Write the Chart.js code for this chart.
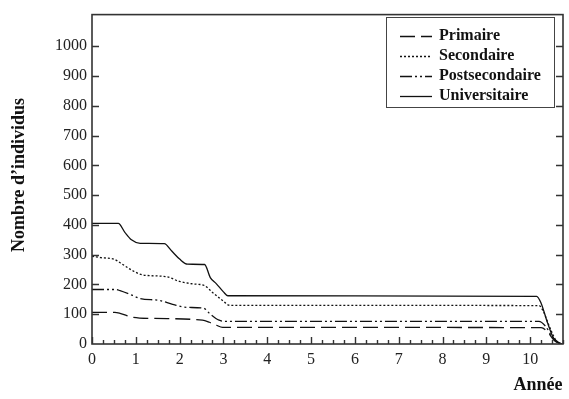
<!DOCTYPE html>
<html>
<head>
<meta charset="utf-8">
<script src="https://cdn.jsdelivr.net/npm/chart.js@4/dist/chart.umd.min.js"></script>
<style>
  html, body { margin: 0; padding: 0; background: #fff; }
  #c { display: block; }
</style>
</head>
<body>
<canvas id="c" width="569" height="399"></canvas>
<script>
// ---- Data ----
const seriesNames = ["Primaire", "Secondaire", "Postsecondaire", "Universitaire"];

const primaireX = [0, 0.52, 0.64, 0.93, 1.39, 2.52, 2.68, 2.84, 2.98, 10.25, 10.4, 10.55, 10.72];
const primaireY = [106, 106, 103, 90, 86, 80, 73, 63, 56, 55, 40, 12, 0];

const secondaireX = [0, 0.2, 0.5, 0.65, 0.93, 1.16, 1.7, 2.0, 2.3, 2.57, 2.75, 2.98, 3.14, 10.2, 10.3, 10.45, 10.6, 10.72];
const secondaireY = [295, 290, 285, 272, 246, 232, 226, 210, 202, 196, 173, 146, 130, 129, 110, 55, 10, 0];

const postsecX = [0, 0.55, 0.64, 0.93, 1.09, 1.55, 1.84, 2.16, 2.55, 2.68, 2.9, 3.07, 10.2, 10.35, 10.5, 10.65, 10.72];
const postsecY = [183, 183, 179, 163, 153, 146, 133, 123, 120, 103, 80, 76, 76, 60, 25, 5, 0];

const universX = [0, 0.6, 0.75, 0.9, 1.1, 1.65, 1.82, 2.0, 2.18, 2.57, 2.7, 2.84, 3.0, 3.1, 10.15, 10.25, 10.4, 10.55, 10.7];
const universY = [405, 405, 375, 350, 338, 337, 312, 285, 268, 267, 223, 202, 175, 162, 160, 137, 70, 15, 0];

const xTickLabels = [0, 1, 2, 3, 4, 5, 6, 7, 8, 9, 10];
const yTickLabels = [0, 100, 200, 300, 400, 500, 600, 700, 800, 900, 1000];

const xTitle = "Année";
const yTitle = "Nombre d’individus";

function pts(xs, ys) { return xs.map((x, i) => ({ x: x, y: ys[i] })); }

const styles = [
  { dash: [15, 6] },
  { dash: [2, 2] },
  { dash: [12, 3, 2, 3, 2, 3] },
  { dash: [] }
];
const dataSets = [pts(primaireX, primaireY), pts(secondaireX, secondaireY), pts(postsecX, postsecY), pts(universX, universY)];

const SERIF = "'Liberation Serif', 'DejaVu Serif', serif";

const framePlugin = {
  id: 'frame',
  afterDraw(chart) {
    const ctx = chart.ctx;
    const a = chart.chartArea;
    const xs = chart.scales.x, ys = chart.scales.y;
    ctx.save();
    // frame
    ctx.strokeStyle = '#333';
    ctx.lineWidth = 1.6;
    ctx.setLineDash([]);
    ctx.strokeRect(a.left, a.top, a.right - a.left, a.bottom - a.top);
    // bottom ticks (inward)
    ctx.lineWidth = 1.4;
    ctx.beginPath();
    for (let v = 0; v <= 10.75 + 1e-9; v += 0.25) {
      const px = Math.round(xs.getPixelForValue(v)) + 0.5;
      const major = Math.abs(v - Math.round(v)) < 1e-9;
      ctx.moveTo(px, a.bottom);
      ctx.lineTo(px, a.bottom - (major ? 7 : 4));
    }
    // left and right ticks
    for (const v of yTickLabels) {
      if (v === 0) continue;
      const py = Math.round(ys.getPixelForValue(v)) + 0.5;
      ctx.moveTo(a.left, py); ctx.lineTo(a.left + 7, py);
      ctx.moveTo(a.right, py); ctx.lineTo(a.right - 7, py);
    }
    ctx.stroke();

    // axis titles
    ctx.fillStyle = '#111';
    ctx.font = 'bold 18px ' + SERIF;
    ctx.textAlign = 'center';
    ctx.textBaseline = 'middle';
    ctx.fillText(xTitle, 538, 385);
    ctx.save();
    ctx.translate(19, 175);
    ctx.rotate(-Math.PI / 2);
    ctx.fillText(yTitle, 0, 0);
    ctx.restore();

    // legend
    const lx = 386, ly = 17, lw = 168, lh = 90;
    ctx.lineWidth = 1;
    ctx.strokeStyle = '#444';
    ctx.strokeRect(lx + 0.5, ly + 0.5, lw, lh);
    ctx.font = 'bold 16px ' + SERIF;
    ctx.textAlign = 'left';
    ctx.textBaseline = 'middle';
    seriesNames.forEach((name, i) => {
      const y = 36 + i * 20;
      ctx.beginPath();
      ctx.setLineDash(styles[i].dash);
      ctx.lineWidth = 1.3;
      ctx.strokeStyle = '#111';
      ctx.moveTo(400, y + 0.5);
      ctx.lineTo(432, y + 0.5);
      ctx.stroke();
      ctx.setLineDash([]);
      ctx.fillStyle = '#111';
      ctx.fillText(name, 439, y);
    });
    ctx.restore();
  }
};

new Chart(document.getElementById('c'), {
  type: 'line',
  data: {
    datasets: dataSets.map((d, i) => ({
      label: seriesNames[i],
      data: d,
      borderColor: '#111',
      borderWidth: 1.3,
      borderDash: styles[i].dash,
      pointRadius: 0,
      fill: false,
      cubicInterpolationMode: 'monotone'
    }))
  },
  options: {
    responsive: false,
    animation: false,
    layout: { padding: { left: 0, right: 6, top: 11, bottom: 0 } },
    plugins: { legend: { display: false }, tooltip: { enabled: false } },
    scales: {
      x: {
        type: 'linear',
        min: 0,
        max: 10.75,
        afterFit(s) { s.height = 55; },
        afterBuildTicks(s) { s.ticks = xTickLabels.map(v => ({ value: v })); },
        grid: { display: false, drawTicks: false },
        border: { display: false },
        ticks: { padding: 6, color: '#222', font: { family: SERIF, size: 16 }, maxRotation: 0, autoSkip: false, callback: v => String(v) }
      },
      y: {
        type: 'linear',
        min: 0,
        max: 1106,
        afterFit(s) { s.width = 92; },
        afterBuildTicks(s) { s.ticks = yTickLabels.map(v => ({ value: v })); },
        grid: { display: false, drawTicks: false },
        border: { display: false },
        ticks: { padding: 5, color: '#222', font: { family: SERIF, size: 16 }, autoSkip: false, callback: v => String(v) }
      }
    }
  },
  plugins: [framePlugin]
});
</script>
</body>
</html>
